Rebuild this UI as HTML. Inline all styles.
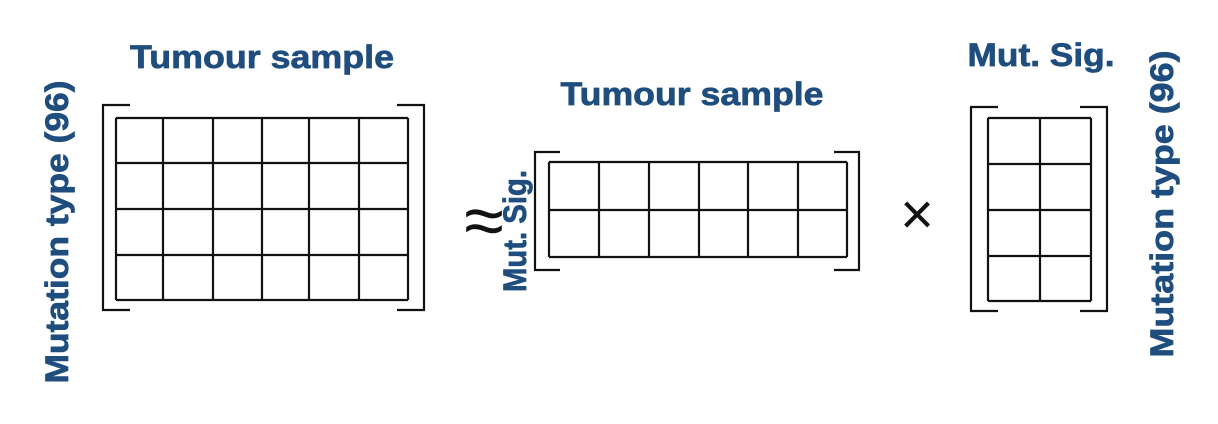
<!DOCTYPE html>
<html><head><meta charset="utf-8"><style>
html,body{margin:0;padding:0;background:#fff;width:1218px;height:424px;overflow:hidden}
text{font-family:"Liberation Sans",sans-serif;font-weight:bold;fill:#1f4e7e;stroke:#1f4e7e;stroke-width:0.7}
</style></head><body>
<svg width="1218" height="424" viewBox="0 0 1218 424">
<g id="g" stroke="#111" stroke-width="2.2" fill="none"></g>
<text x="262" y="68" font-size="32" text-anchor="middle" textLength="264" lengthAdjust="spacingAndGlyphs">Tumour sample</text>
<text transform="translate(68,232) rotate(-90)" font-size="32" text-anchor="middle" textLength="303" lengthAdjust="spacingAndGlyphs">Mutation type (96)</text>
<text x="692" y="105" font-size="32" text-anchor="middle" textLength="263" lengthAdjust="spacingAndGlyphs">Tumour sample</text>
<text transform="translate(526,231) rotate(-90)" font-size="32" text-anchor="middle" textLength="122" lengthAdjust="spacingAndGlyphs">Mut. Sig.</text>
<text x="484" y="245" font-size="72" text-anchor="middle" style="fill:#111;stroke:none;font-weight:normal">≈</text>
<text x="917" y="234" font-size="58" text-anchor="middle" style="fill:#111;stroke:none;font-weight:normal">×</text>
<text x="1041" y="66" font-size="32" text-anchor="middle" textLength="147" lengthAdjust="spacingAndGlyphs">Mut. Sig.</text>
<text transform="translate(1173,204) rotate(-90)" font-size="32" text-anchor="middle" textLength="307" lengthAdjust="spacingAndGlyphs">Mutation type (96)</text>
</svg>
<script>
const g=document.getElementById('g');
function ln(x1,y1,x2,y2,n){const l=document.createElementNS('http://www.w3.org/2000/svg','line');
l.setAttribute('x1',x1);l.setAttribute('y1',y1);l.setAttribute('x2',x2);l.setAttribute('y2',y2);


g.appendChild(l);}
function grid(name,xs,ys,bl,br,bt,bb,arm){
 xs.forEach(x=>ln(x,ys[0],x,ys[ys.length-1],name+'-grid-line'));
 ys.forEach(y=>ln(xs[0],y,xs[xs.length-1],y,name+'-grid-line'));
 ln(bl,bt,bl,bb,name+'-left-bracket');ln(bl-1,bt,bl+arm,bt,name+'-left-bracket');ln(bl-1,bb,bl+arm,bb,name+'-left-bracket');
 ln(br,bt,br,bb,name+'-right-bracket');ln(br+1,bt,br-arm,bt,name+'-right-bracket');ln(br+1,bb,br-arm,bb,name+'-right-bracket');
}
grid('left-matrix',[116,163,213,262,309,359,408],[118,163,209,255,300],103,424,105,310,27);
grid('middle-matrix',[549,599,649,699,748,798,847],[162,210,257],535,859,152,270,25);
grid('right-matrix',[988,1040,1091],[118,164,210,256,301],971,1107,107,311,27);
</script>
</body></html>
